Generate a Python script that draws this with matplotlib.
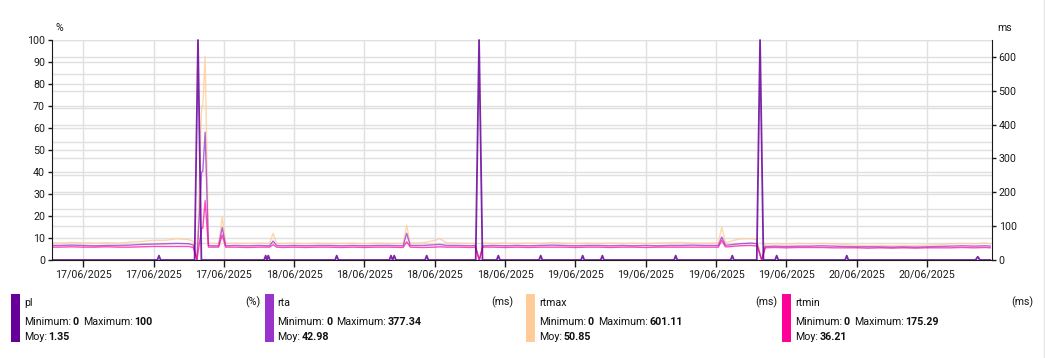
import datetime as dt
import matplotlib
matplotlib.use('Agg')
import matplotlib.pyplot as plt
import matplotlib.dates as mdates
from matplotlib.lines import Line2D
from matplotlib.patches import Rectangle
from matplotlib.ticker import MultipleLocator

plt.rcParams['font.family'] = ['Roboto', 'DejaVu Sans']

W, H = 1045, 358
start = dt.datetime(2025, 6, 17)
FS = 7.7

# heures depuis le 17/06/2025 00:00
ms_hours = [3.4, 4, 5, 6, 7, 8, 9, 10, 11, 12,
            13, 14, 15, 15.39, 15.7, 16.1, 16.2, 16.4, 16.68, 17,
            17.55, 17.86, 18.15, 19, 20, 21, 21.9, 22.2, 22.5, 23,
            24, 25, 26, 27, 28, 29, 30, 31, 32, 33.3,
            33.6, 33.9, 35, 36, 36.4, 37, 38, 39, 39.45, 39.8,
            40.1, 41, 42, 43, 44, 45, 46, 47, 48, 49,
            50, 51, 52, 53, 54, 55, 56, 57, 58, 59,
            60.2, 60.49, 60.8, 61, 62, 63, 63.5, 63.9, 64.2, 65,
            66, 67, 68, 69, 70, 71, 72, 73, 74, 75,
            76, 77, 78, 79, 80, 81, 82, 83, 83.4]
rta = [43, 43, 44, 43, 42, 43, 43, 44, 46, 47,
       48, 49, 48, 44, 0, 260, 262, 377.34, 43, 42,
       42, 96, 42, 43, 42, 43, 42, 56, 43, 42,
       43, 42, 43, 43, 42, 43, 42, 43, 43, 42,
       79, 43, 43, 45, 46, 43, 43, 42, 43, 0,
       42, 43, 42, 43, 42, 43, 44, 43, 42, 43,
       43, 42, 43, 42, 43, 42, 43, 43, 44, 43,
       43, 68, 44, 44, 48, 50, 48, 0, 40, 41,
       40, 41, 41, 42, 41, 40, 39, 39, 39, 38,
       39, 38, 39, 40, 41, 42, 41, 42, 41]
rtmax = [51, 50, 52, 51, 50, 51, 50, 53, 55, 58,
         58, 63, 60, 55, 0, 455, 455, 601.11, 50, 49,
         49, 128, 49, 50, 49, 50, 49, 79, 50, 49,
         50, 48, 50, 49, 49, 50, 48, 50, 49, 49,
         102, 50, 51, 58, 63, 51, 50, 49, 50, 0,
         50, 49, 50, 49, 50, 49, 52, 50, 49, 50,
         49, 50, 49, 50, 49, 50, 51, 52, 50, 50,
         51, 97, 52, 53, 62, 63, 60, 0, 48, 48,
         47, 49, 48, 49, 48, 46, 43, 42, 43, 42,
         43, 42, 44, 45, 48, 49, 48, 50, 48]
rtmin = [38, 38, 39, 38, 38, 39, 38, 38, 39, 40,
         40, 40, 40, 37, 0, 94, 94, 175.29, 38, 38,
         38, 74, 38, 38, 37, 38, 38, 45, 38, 37,
         38, 37, 38, 38, 37, 38, 37, 38, 38, 37,
         54, 38, 37, 38, 39, 38, 38, 37, 38, 0,
         38, 38, 37, 38, 37, 38, 38, 38, 37, 38,
         38, 37, 38, 38, 37, 38, 38, 38, 38, 38,
         38, 58, 39, 39, 42, 43, 41, 0, 36, 37,
         36, 37, 37, 37, 36, 36, 36, 35, 36, 35,
         36, 35, 36, 36, 36, 37, 36, 37, 36]

pl_hours = [3.4, 12.32, 12.46, 12.6, 15.5, 15.79, 16.08,
            21.43, 21.57, 21.68, 21.79, 21.93, 27.49, 27.63, 27.77,
            32.12, 32.26, 32.4, 32.54, 32.68, 35.17, 35.31, 35.45,
            39.49, 39.78, 40.07, 41.28, 41.42, 41.56, 44.9, 45.04, 45.18,
            48.48, 48.62, 48.76, 50.16, 50.3, 50.44, 56.42, 56.56, 56.7,
            61.25, 61.39, 61.53, 63.48, 63.76, 64.05, 65.04, 65.18, 65.32,
            71.02, 71.16, 71.3, 82.15, 82.34, 82.53, 83.4]
pl = [0, 0, 2, 0, 0, 100, 0,
      0, 2, 0, 2, 0, 0, 2, 0,
      0, 2, 0, 2, 0, 0, 2, 0,
      0, 100, 0, 0, 2, 0, 0, 2, 0,
      0, 2, 0, 0, 2, 0, 0, 2, 0,
      0, 2, 0, 0, 100, 0, 0, 2, 0,
      0, 2, 0, 0, 1.5, 0, 0]

names = ['pl', 'rta', 'rtmax', 'rtmin']
units = ['(%)', '(ms)', '(ms)', '(ms)']
mins = ['0', '0', '0', '0']
maxs = ['100', '377.34', '601.11', '175.29']
moys = ['1.35', '42.98', '50.85', '36.21']
colors = ['#660099', '#9933cc', '#ffcc99', '#ff0099']

t_ms = [start + dt.timedelta(hours=h) for h in ms_hours]
t_pl = [start + dt.timedelta(hours=h) for h in pl_hours]

fig = plt.figure(figsize=(W / 100, H / 100), dpi=100)
rect = [52 / W, 1 - 260 / H, (991.7 - 52) / W, 220 / H]

bg = fig.add_axes(rect, zorder=0)
ms = fig.add_axes(rect, sharex=bg, zorder=1)
ax = fig.add_axes(rect, sharex=bg, zorder=2)
ms.patch.set_visible(False)
ax.patch.set_visible(False)

grid_c = '#e0e0e0'
# fond : grille verticale + lignes tous les 10 %
bg.set_ylim(0, 100)
bg.yaxis.set_major_locator(MultipleLocator(10))
bg.grid(True, color=grid_c, lw=1)
bg.tick_params(left=False, bottom=False, labelleft=False, labelbottom=False)
for s in bg.spines.values():
    s.set_visible(False)

# ms (axe de droite)
ms.plot(t_ms, rtmax, color=colors[2], lw=1, alpha=0.8)
ms.plot(t_ms, rta, color=colors[1], lw=1, alpha=0.75)
ms.plot(t_ms, rtmin, color=colors[3], lw=1, alpha=0.7)
ms.set_ylim(0, 650)
ms.yaxis.tick_right()
ms.yaxis.set_major_locator(MultipleLocator(100))
ms.yaxis.set_minor_locator(MultipleLocator(50))
ms.grid(True, which='both', axis='y', color=grid_c, lw=1)
ms.set_axisbelow(True)
ms.tick_params(axis='y', which='major', labelsize=FS, length=3, width=1, pad=2, colors='#1a1a1a')
ms.tick_params(axis='y', which='minor', length=0)
ms.tick_params(axis='x', bottom=False, labelbottom=False)
for k in ['left', 'top', 'bottom']:
    ms.spines[k].set_visible(False)
ms.spines['right'].set_color('#1a1a1a')

# % (axe de gauche)
ax.plot(t_pl, pl, color=colors[0], lw=1.3, alpha=0.85, clip_on=False)
ax.set_ylim(0, 100)
ax.yaxis.set_major_locator(MultipleLocator(10))
ax.set_xlim(start + dt.timedelta(hours=3.33), start + dt.timedelta(hours=83.53))
ax.xaxis.set_major_locator(mdates.HourLocator(byhour=[0, 6, 12, 18]))
ax.xaxis.set_major_formatter(mdates.DateFormatter('%d/%m/%Y'))
ax.tick_params(axis='y', labelsize=FS, length=3, width=1, pad=2, colors='#1a1a1a')
ax.tick_params(axis='x', labelsize=FS, length=5, width=1, pad=1.5, colors='#1a1a1a')
for k in ['right', 'top']:
    ax.spines[k].set_visible(False)
for k in ['left', 'bottom']:
    ax.spines[k].set_color('#1a1a1a')

fig.text(55 / W, 1 - 28 / H, '%', fontsize=FS, va='center', ha='left', color='#1a1a1a')
fig.text(997 / W, 1 - 28 / H, 'ms', fontsize=FS, va='center', ha='left', color='#1a1a1a')

# légende
r = fig.canvas.get_renderer()


def pieces(x0, y0, items):
    x = x0
    for s, bold, gap in items:
        t = fig.text(x / W, 1 - y0 / H, s, fontsize=FS, va='center', ha='left',
                     fontweight='bold' if bold else 'normal', color='#111111')
        x += t.get_window_extent(r).width + gap


block_x = [11, 264.5, 526, 782]
unit_x = [260, 513.5, 777.5, 1033.5]
for i in range(4):
    x0 = block_x[i]
    fig.add_artist(Rectangle((x0 / W, 1 - 342 / H), 9 / W, 48 / H,
                             transform=fig.transFigure, color=colors[i], lw=0))
    fig.text((x0 + 13) / W, 1 - 302.5 / H, names[i], fontsize=FS, va='center', ha='left', color='#111111')
    fig.text(unit_x[i] / W, 1 - 302.5 / H, units[i], fontsize=FS, va='center', ha='right', color='#111111')
    pieces(x0 + 13, 321.7, [('Minimum:', False, 1.5), (mins[i], True, 4),
                            ('Maximum:', False, 1.5), (maxs[i], True, 0)])
    pieces(x0 + 13, 337.5, [('Moy:', False, 1.5), (moys[i], True, 0)])

fig.add_artist(Line2D([1043.5 / W] * 2, [0, 1], transform=fig.transFigure, color='#e6e6e6', lw=1))

fig.savefig('out.png', dpi=100)
